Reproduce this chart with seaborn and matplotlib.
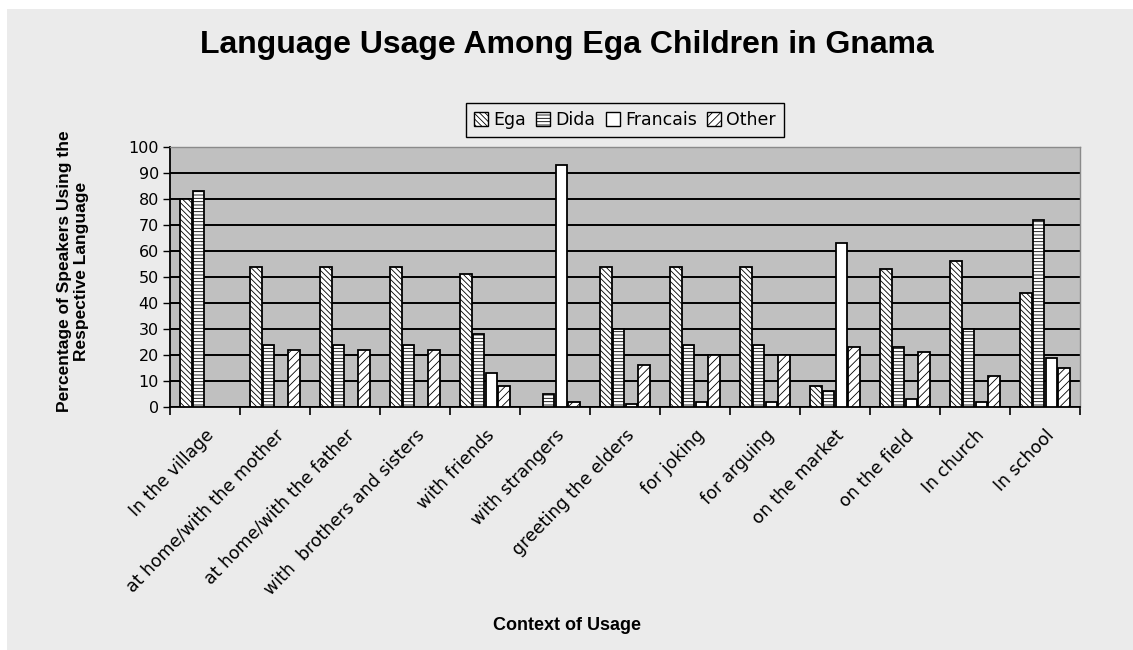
import matplotlib
matplotlib.use("Agg")
import matplotlib.pyplot as plt
from matplotlib.patches import Patch, Rectangle
import pandas as pd
import seaborn as sns

# Survey results: share of children using each language, by context
contexts = [
    "In the village",
    "at home/with the mother",
    "at home/with the father",
    "with  brothers and sisters",
    "with friends",
    "with strangers",
    "greeting the elders",
    "for joking",
    "for arguing",
    "on the market",
    "on the field",
    "In church",
    "In school",
]
languages = ["Ega", "Dida", "Francais", "Other"]
ega = [80, 54, 54, 54, 51, 0, 54, 54, 54, 8, 53, 56, 44]
dida = [83, 24, 24, 24, 28, 5, 30, 24, 24, 6, 23, 30, 72]
francais = [0, 0, 0, 0, 13, 93, 1, 2, 2, 63, 3, 2, 19]
other = [0, 22, 22, 22, 8, 2, 16, 20, 20, 23, 21, 12, 15]
y_ticks = list(range(0, 101, 10))

series = {"Ega": ega, "Dida": dida, "Francais": francais, "Other": other}
df = pd.DataFrame(
    [(c, lang, v) for lang in languages for c, v in zip(contexts, series[lang])],
    columns=["Context", "Language", "Percent"],
)

sns.set_style("ticks")
plt.rcParams["font.family"] = ["DejaVu Sans"]
plt.rcParams["hatch.linewidth"] = 0.6
for key in ("text.color", "axes.labelcolor", "xtick.color", "ytick.color"):
    plt.rcParams[key] = "black"

hatches = {"Ega": "\\\\\\\\\\\\", "Dida": "-----", "Francais": "", "Other": "////"}

W, H = 1133, 650
fig = plt.figure(figsize=(W / 100, H / 100), dpi=100)
fig.patch.set_facecolor("white")
fig.add_artist(Rectangle((7 / W, 0), 1, 1 - 9 / H, transform=fig.transFigure,
                         facecolor="#ebebeb", edgecolor="none", zorder=-10))

ax = fig.add_axes([170 / W, 1 - 407 / H, 910 / W, 260 / H])
ax.set_facecolor("#c0c0c0")

sns.barplot(
    data=df, x="Context", y="Percent", hue="Language",
    order=contexts, hue_order=languages,
    palette={lang: "white" for lang in languages},
    edgecolor="black", linewidth=1.3,
    width=0.74, gap=0.08, legend=False, ax=ax, zorder=3,
)
for container, lang in zip(ax.containers, languages):
    for bar in container:
        bar.set_hatch(hatches[lang])

ax.set_ylim(0, 100)
ax.set_xlim(-0.5, len(contexts) - 0.5)
ax.set_yticks(y_ticks)
ax.yaxis.grid(True, color="black", linewidth=1.4)
ax.set_axisbelow(True)

ax.tick_params(axis="y", length=5, width=1, direction="out", labelsize=11.5, pad=3)
ax.set_xticks(range(len(contexts)))
ax.set_xticklabels(contexts, rotation=46, ha="right", va="top",
                   rotation_mode="anchor", fontsize=12.5)
ax.tick_params(axis="x", which="major", length=0, pad=14)
ax.set_xticks([i - 0.5 for i in range(len(contexts) + 1)], minor=True)
ax.tick_params(axis="x", which="minor", length=6, width=1.2, direction="out")

for side in ("left", "bottom"):
    ax.spines[side].set_color("black")
    ax.spines[side].set_linewidth(1.3)
for side in ("top", "right"):
    ax.spines[side].set_visible(True)
    ax.spines[side].set_color("#8a8a8a")
    ax.spines[side].set_linewidth(1.0)

label_font = ["Liberation Sans", "DejaVu Sans"]
ax.set_ylabel("Percentage of Speakers Using the\nRespective Language",
              fontsize=12.5, fontweight="bold", family=label_font,
              va="center", ha="center", multialignment="center")
ax.yaxis.set_label_coords((73 - 170) / 910, (407 - 271) / 260)
ax.set_xlabel("Context of Usage", fontsize=13, fontweight="bold", family=label_font)
ax.xaxis.set_label_coords((567 - 170) / 910, (407 - 626) / 260)
ax.xaxis.label.set_va("center")

fig.text(0.5, 1 - 45 / H, "Language Usage Among Ega Children in Gnama",
         ha="center", va="center", fontsize=23, fontweight="bold", family=label_font)

handles = [Patch(facecolor="white", edgecolor="black", hatch=hatches[lang], linewidth=1)
           for lang in languages]
leg = fig.legend(handles, languages, loc="center",
                 bbox_to_anchor=(625 / W, 1 - 120 / H), ncol=4,
                 frameon=True, fancybox=False, edgecolor="black",
                 facecolor="#ebebeb", framealpha=1, fontsize=12.5,
                 handlelength=0.8, handleheight=0.8, handletextpad=0.3,
                 columnspacing=0.6, borderpad=0.45)
leg.get_frame().set_linewidth(1.0)

fig.savefig("out.png", dpi=100, facecolor=fig.get_facecolor())
